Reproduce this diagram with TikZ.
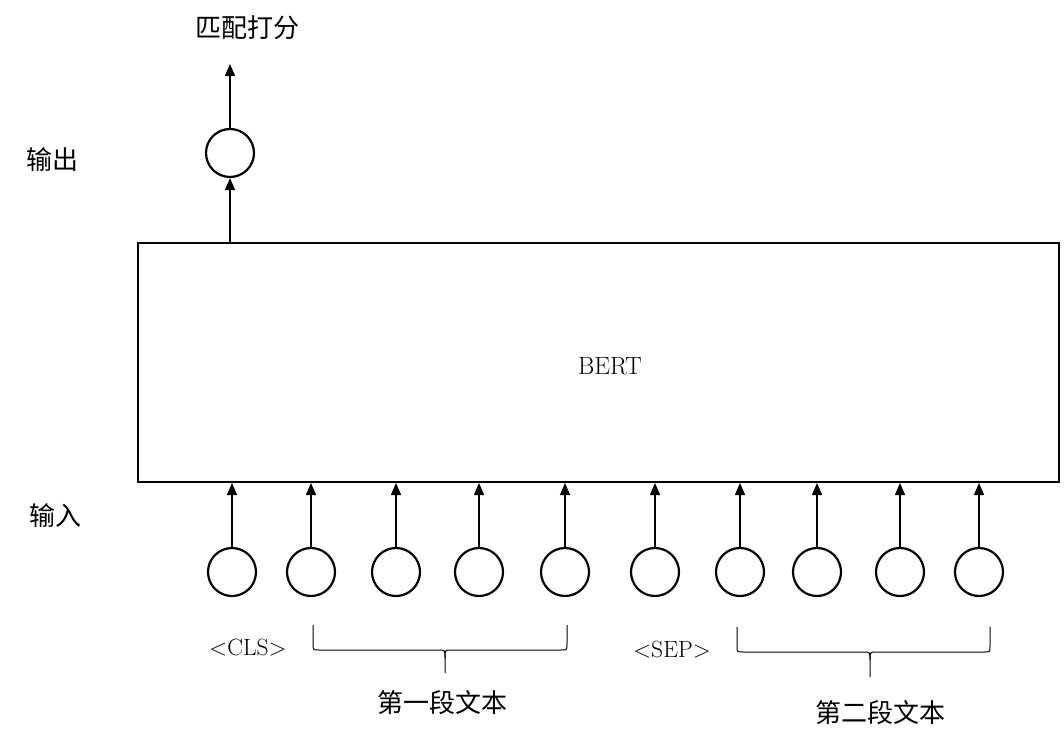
\documentclass[tikz,border=0pt]{standalone}
\usepackage{fontspec}
\newfontfamily\cjk{Noto Sans CJK SC}
\usetikzlibrary{arrows.meta}
\tikzset{
  tok/.style={circle,draw,line width=2.2pt,minimum size=48pt,inner sep=0pt},
  conn/.style={line width=1.4pt,-{Triangle[length=12pt,width=10pt]}},
  brace/.style={line width=1pt},
  cjklab/.style={font=\cjk\fontsize{26}{30}\selectfont,inner sep=0pt},
  latlab/.style={font=\fontsize{23.5}{27}\selectfont,inner sep=0pt}
}
\begin{document}
\begin{tikzpicture}[x=1pt,y=-1pt]
\useasboundingbox (0,0) rectangle (1064,741);
% BERT box
\node[draw,line width=2pt,minimum width=921pt,minimum height=239pt,inner sep=0pt,anchor=north west] (bert) at (137,242) {};
\node[latlab,font=\fontsize{25}{29}\selectfont] (bertlab) at (610,366) {BERT};
% output
\node[tok] (out) at (230,153) {};
\coordinate (score) at (230,64);
\draw[conn] (bert.north -| out) -- (out.south);
\draw[conn] (out.north) -- (score);
\node[cjklab] (scorelab) at (247,28) {匹配打分};
\node[cjklab] (outlab) at (52,160) {输出};
\node[cjklab] (inlab) at (55,516) {输入};
% inputs
\foreach \i/\x in {1/232,2/311,3/396,4/479,5/565,6/655,7/740,8/817,9/900,10/979}{
  \node[tok] (t\i) at (\x,572) {};
  \draw[conn] (t\i.north) -- (bert.south -| t\i);
}
\node[latlab] (cls) at (248,648) {<CLS>};
\node[latlab] (sep) at (672,650) {<SEP>};
% braces
\coordinate (b1l) at (313,625);
\coordinate (b1r) at (567,625);
\coordinate (b1m) at (445,673);
\draw[brace] (b1l) -- (313,644) .. controls (313,650) .. (319,650) -- (439,650)
  .. controls (445,650) .. (445,658) -- (b1m);
\draw[brace] (b1r) -- (567,644) .. controls (567,650) .. (561,650) -- (451,650)
  .. controls (445,650) .. (445,658);
\coordinate (b2l) at (737,627);
\coordinate (b2r) at (990,627);
\coordinate (b2m) at (870,677);
\draw[brace] (b2l) -- (737,646) .. controls (737,652) .. (743,652) -- (864,652)
  .. controls (870,652) .. (870,660) -- (b2m);
\draw[brace] (b2r) -- (990,646) .. controls (990,652) .. (984,652) -- (876,652)
  .. controls (870,652) .. (870,660);
\node[cjklab] (seg1) at (442,703) {第一段文本};
\node[cjklab] (seg2) at (880,713) {第二段文本};
\end{tikzpicture}
\end{document}
